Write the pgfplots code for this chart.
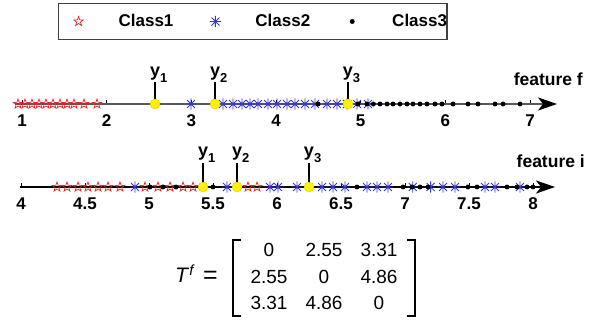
\documentclass[border=0pt]{standalone}
\usepackage{fontspec}
\setmainfont{Liberation Sans}
\usepackage{pgfplots}
\pgfplotsset{compat=1.18}
\usetikzlibrary{arrows.meta,plotmarks}
\definecolor{starred}{RGB}{240,35,35}
\definecolor{astblue}{RGB}{55,55,205}
\definecolor{ylw}{RGB}{255,242,0}
\pgfdeclareplotmark{mast}{%
  \pgfpathmoveto{\pgfqpoint{-\pgfplotmarksize}{0pt}}\pgfpathlineto{\pgfqpoint{\pgfplotmarksize}{0pt}}%
  \pgfpathmoveto{\pgfqpoint{0pt}{-\pgfplotmarksize}}\pgfpathlineto{\pgfqpoint{0pt}{\pgfplotmarksize}}%
  \pgfpathmoveto{\pgfqpoint{-0.707\pgfplotmarksize}{-0.707\pgfplotmarksize}}\pgfpathlineto{\pgfqpoint{0.707\pgfplotmarksize}{0.707\pgfplotmarksize}}%
  \pgfpathmoveto{\pgfqpoint{-0.707\pgfplotmarksize}{0.707\pgfplotmarksize}}\pgfpathlineto{\pgfqpoint{0.707\pgfplotmarksize}{-0.707\pgfplotmarksize}}%
  \pgfusepathqstroke}
\pgfdeclareplotmark{pstar}{%
  \pgfpathmoveto{\pgfqpoint{0pt}{\pgfplotmarksize}}%
  \pgfpathlineto{\pgfqpoint{0.235\pgfplotmarksize}{0.324\pgfplotmarksize}}%
  \pgfpathlineto{\pgfqpoint{0.951\pgfplotmarksize}{0.309\pgfplotmarksize}}%
  \pgfpathlineto{\pgfqpoint{0.380\pgfplotmarksize}{-0.124\pgfplotmarksize}}%
  \pgfpathlineto{\pgfqpoint{0.588\pgfplotmarksize}{-0.809\pgfplotmarksize}}%
  \pgfpathlineto{\pgfqpoint{0pt}{-0.4\pgfplotmarksize}}%
  \pgfpathlineto{\pgfqpoint{-0.588\pgfplotmarksize}{-0.809\pgfplotmarksize}}%
  \pgfpathlineto{\pgfqpoint{-0.380\pgfplotmarksize}{-0.124\pgfplotmarksize}}%
  \pgfpathlineto{\pgfqpoint{-0.951\pgfplotmarksize}{0.309\pgfplotmarksize}}%
  \pgfpathlineto{\pgfqpoint{-0.235\pgfplotmarksize}{0.324\pgfplotmarksize}}%
  \pgfpathclose
  \pgfusepathqstroke}
\pgfplotsset{
  numline/.style={
    scale only axis, width=589pt, height=321pt, at={(0pt,0pt)}, anchor=south west,
    axis x line=middle, axis y line=none,
    x axis line style={draw=none},
    ytick=\empty, clip=false,
    tick align=inside, major tick length=4pt,
    xtick style={black, line width=0.8pt},
    /pgf/number format/assume math mode=true,
    xticklabel style={anchor=base, yshift=-23pt, inner sep=0pt, font=\fontsize{17}{17}\selectfont\bfseries},
  },
  cone/.style={only marks, mark=pstar, mark size=5pt, mark options={draw=starred, fill=none, line width=0.7pt}},
  ctwo/.style={only marks, mark=mast, mark size=5.6pt, mark options={draw=astblue, line width=0.85pt}},
  cthree/.style={only marks, mark=*, mark size=2.2pt, mark options={draw=black, fill=black, line width=0.4pt}},
  ydot/.style={forget plot, only marks, mark=*, mark size=5pt, mark options={fill=ylw, draw=ylw!85!black, line width=0.4pt}},
  stick/.style={forget plot, black, line width=1.7pt},
}
\newcommand{\ylab}[1]{y\rlap{\raisebox{-6pt}{\fontsize{13}{13}\selectfont #1}}}
\begin{document}
\begin{tikzpicture}
\path[use as bounding box] (0pt,0pt) rectangle (589pt,321pt);
% ---------- top number line: feature f ----------
\begin{axis}[numline,
  xmin=0.7402, xmax=7.6967, ymin=-217, ymax=104,
  xtick={1,2,3,4,5,6,7},
  legend columns=3,
  legend style={at={(0.09847,0.99065)}, anchor=north west, draw=black!75, line width=1.2pt, fill=white,
    inner xsep=0pt, inner ysep=11pt, font=\fontsize{17}{20}\selectfont\bfseries, nodes={inner sep=0pt},
    /tikz/every odd column/.append style={column sep=20pt},
    /tikz/every even column/.append style={column sep=22pt}},
  legend image code/.code={\path[draw=none,fill=none] (0pt,-5pt) rectangle (40pt,5pt); \draw[#1] plot coordinates {(20pt,0pt)};},
]
\addplot[forget plot, black!65, line width=1.8pt, -{Stealth[length=19pt,width=13pt,inset=5pt,color=black]}] coordinates {(0.917,0) (7.319,0)};
\addplot[cone] coordinates {(0.953,0) (1.035,0) (1.118,0) (1.201,0) (1.283,0) (1.366,0) (1.449,0) (1.531,0) (1.614,0) (1.732,0) (1.886,0)};
\addlegendentry{Class1}
\addplot[ctwo] coordinates {(2.996,0) (3.374,0) (3.492,0) (3.598,0) (3.693,0) (3.787,0) (3.905,0) (4.012,0) (4.130,0) (4.224,0) (4.342,0) (4.460,0) (4.602,0) (4.720,0) (4.838,0) (4.957,0) (5.086,0)};
\addlegendentry{Class2}
\addplot[cthree] coordinates {(4.496,0) (4.968,0) (5.075,0) (5.150,0) (5.228,0) (5.311,0) (5.382,0) (5.464,0) (5.547,0) (5.618,0) (5.701,0) (5.783,0) (5.878,0) (5.960,0) (6.090,0) (6.268,0) (6.386,0) (6.586,0) (6.681,0) (6.882,0)};
\addlegendentry{Class3}
\addplot[stick] coordinates {(2.571,0) (2.571,22)};
\addplot[stick] coordinates {(3.280,0) (3.280,22)};
\addplot[stick] coordinates {(4.850,0) (4.850,22)};
\addplot[ydot] coordinates {(2.571,0) (3.280,0) (4.850,0)};
\node[anchor=base, inner sep=0pt, font=\fontsize{18}{18}\selectfont\bfseries] at (axis cs:2.571,27) {\ylab{1}};
\node[anchor=base, inner sep=0pt, font=\fontsize{18}{18}\selectfont\bfseries] at (axis cs:3.280,27) {\ylab{2}};
\node[anchor=base, inner sep=0pt, font=\fontsize{18}{18}\selectfont\bfseries] at (axis cs:4.850,27) {\ylab{3}};
\node[anchor=base east, inner sep=0pt, font=\fontsize{17.5}{17.5}\selectfont\bfseries] at (axis cs:7.626,18) {feature f};
\end{axis}
% ---------- bottom number line: feature i ----------
\begin{axis}[numline,
  xmin=3.8359, xmax=8.4375, ymin=-134, ymax=187,
  xtick={4,4.5,5,5.5,6,6.5,7,7.5,8},
]
\addplot[forget plot, black, line width=1.5pt, -{Stealth[length=19pt,width=13pt,inset=5pt,color=black]}] coordinates {(3.992,0) (8.172,0)};
\addplot[cone] coordinates {(4.281,0) (4.359,0) (4.445,0) (4.523,0) (4.602,0) (4.680,0) (4.773,0) (4.969,0) (5.070,0) (5.164,0) (5.266,0) (5.344,0) (5.773,0) (5.844,0)};
\addplot[ctwo] coordinates {(4.891,0) (5.609,0) (5.945,0) (6.008,0) (6.156,0) (6.352,0) (6.438,0) (6.531,0) (6.703,0) (6.781,0) (6.867,0) (7.060,0) (7.200,0) (7.297,0) (7.391,0) (7.625,0) (7.703,0) (7.898,0)};
\addplot[cthree] coordinates {(5.008,0) (5.109,0) (5.211,0) (5.500,0) (6.625,0) (6.984,0) (7.055,0) (7.117,0) (7.180,0) (7.492,0) (7.563,0) (7.797,0) (7.875,0) (7.953,0) (8.000,0)};
\addplot[stick] coordinates {(5.422,0) (5.422,24)};
\addplot[stick] coordinates {(5.688,0) (5.688,24)};
\addplot[stick] coordinates {(6.250,0) (6.250,24)};
\addplot[ydot] coordinates {(5.422,0) (5.688,0) (6.250,0)};
\node[anchor=base, inner sep=0pt, font=\fontsize{18}{18}\selectfont\bfseries] at (axis cs:5.422,30) {\ylab{1}};
\node[anchor=base, inner sep=0pt, font=\fontsize{18}{18}\selectfont\bfseries] at (axis cs:5.688,30) {\ylab{2}};
\node[anchor=base, inner sep=0pt, font=\fontsize{18}{18}\selectfont\bfseries] at (axis cs:6.250,30) {\ylab{3}};
\node[anchor=base east, inner sep=0pt, font=\fontsize{17.5}{17.5}\selectfont\bfseries] at (axis cs:8.406,19) {feature i};
\end{axis}
% ---------- distance matrix ----------
\begin{scope}[font=\fontsize{19}{19}\selectfont]
\node[anchor=base west, inner sep=0pt, font=\fontsize{21}{21}\selectfont] at (175pt,38pt) {\textit{T}\textsuperscript{\textit{f}}};
\node[anchor=base, inner sep=0pt, font=\fontsize{25}{25}\selectfont] at (210.5pt,37pt) {=};
\draw[line width=1.6pt] (241pt,81pt) -- (233pt,81pt) -- (233pt,5pt) -- (241pt,5pt);
\draw[line width=1.6pt] (407pt,81pt) -- (415pt,81pt) -- (415pt,5pt) -- (407pt,5pt);
\node at (269pt,71pt) {0};    \node at (324pt,71pt) {2.55}; \node at (379pt,71pt) {3.31};
\node at (269pt,44pt) {2.55}; \node at (324pt,44pt) {0};    \node at (379pt,44pt) {4.86};
\node at (269pt,18pt) {3.31}; \node at (324pt,18pt) {4.86}; \node at (379pt,18pt) {0};
\end{scope}
\end{tikzpicture}
\end{document}
